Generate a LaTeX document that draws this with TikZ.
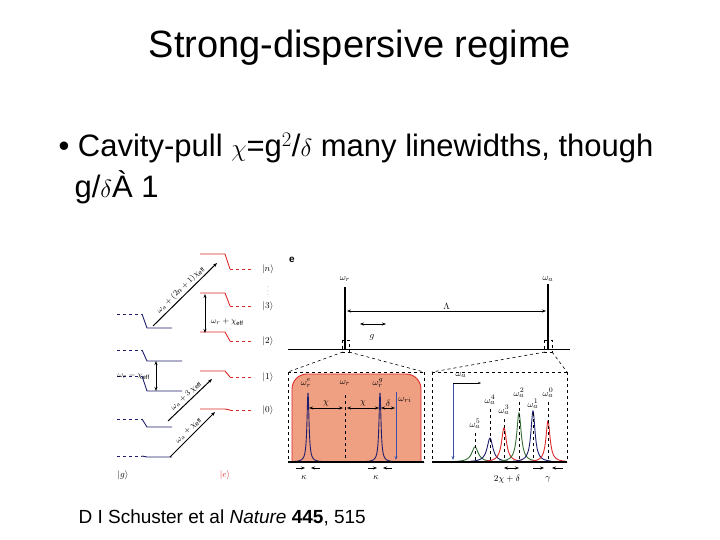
\documentclass[tikz,border=0pt]{standalone}
\usepackage{fontspec}
\setmainfont{Liberation Sans}
\usetikzlibrary{arrows.meta}
\definecolor{lblue}{RGB}{30,30,110}
\definecolor{lred}{RGB}{220,40,40}
\definecolor{salmon}{RGB}{240,160,130}
\definecolor{dgreen}{RGB}{50,110,50}
\definecolor{mblue}{RGB}{60,80,170}
\begin{document}
\begin{tikzpicture}[x=1pt,y=-1pt,
  gl/.style={lblue,line width=0.9pt},
  el/.style={lred,line width=0.9pt},
  arr/.style={-{Stealth[length=4pt]},line width=1pt},
  darr/.style={{Stealth[length=4pt]}-{Stealth[length=4pt]},line width=1pt},
  lab/.style={font=\fontsize{9.5}{10}\selectfont,inner sep=1pt},
  slab/.style={font=\fontsize{8.5}{9}\selectfont,inner sep=1pt},
  dsh/.style={dashed,line width=0.6pt}]
\useasboundingbox (0,0) rectangle (720,540);
\node (title) at (360,48) {\fontsize{38}{44}\selectfont Strong-dispersive regime};
\node[anchor=west] (b1) at (55,148) {\fontsize{31}{36}\selectfont • Cavity-pull $\chi$=g$^2$/$\delta$ many linewidths, though};
\node[anchor=west] (b2) at (71,187) {\fontsize{31}{36}\selectfont g/$\delta$À 1};
\node[anchor=west] (cite) at (75,518) {\fontsize{19}{22}\selectfont D I Schuster et al \textit{Nature} \textbf{445}, 515};
% ground levels
\foreach \ya/\yb/\xe in {314/328/172, 350/361/182, 376/391/182, 419/427/172, 456/457/172}{
  \draw[gl,dashed] (117,\ya) -- (142,\ya);
  \draw[gl] (142,\ya) -- (147,\yb) -- (\xe,\yb);}
% excited levels
\foreach \ya/\yb/\t in {254/269/n, 293/306/3, 332/341/2, 371/377/1, 409/410/0}{
  \draw[el] (200,\ya) -- (225,\ya) -- (230,\yb);
  \draw[el,dashed] (230,\yb) -- (253,\yb);
  \node[lab] (k\t) at (268,\yb) {$|\t\rangle$};}
\node[gray,inner sep=0pt,font=\fontsize{6}{6}\selectfont] (dots) at (268,288) {$\vdots$};
\node[lab] (g) at (123,475) {$|g\rangle$};
\node[lab,lred] (e) at (225,475) {$|e\rangle$};
\coordinate (a1) at (153,326); \coordinate (a2) at (217,263);
\draw[arr] (a1) -- node[slab,sloped,above=1pt] {$\omega_a+(2n+1)\chi_{\rm eff}$} (a2);
\coordinate (b1s) at (168,421); \coordinate (b2s) at (212,379);
\draw[arr] (b1s) -- node[slab,sloped,above=1pt] {$\omega_a+3\,\chi_{\rm eff}$} (b2s);
\coordinate (c1) at (170,457); \coordinate (c2) at (215,412);
\draw[arr] (c1) -- node[slab,sloped,above=1pt] {$\omega_a+\chi_{\rm eff}$} (c2);
\coordinate (d1) at (205,294); \coordinate (d2) at (205,333);
\draw[darr] (d1) -- (d2);
\node[slab,anchor=west] (dl) at (210,322) {$\omega_r+\chi_{\rm eff}$};
\coordinate (f1) at (156,361); \coordinate (f2) at (156,391);
\draw[darr] (f1) -- (f2);
\node[slab,anchor=east] (fl) at (151,376) {$\omega_r-\chi_{\rm eff}$};
% panel e
\node[font=\bfseries\fontsize{10}{10}\selectfont] (elab) at (292,260) {e};
\draw[line width=1pt] (288,349) -- (570,349);
\draw[line width=1.2pt] (345,349) -- (345,287);
\draw[line width=1.2pt] (548,349) -- (548,284);
\node[lab] (wr) at (345,279) {$\omega_r$};
\node[lab] (wa) at (548,279) {$\omega_a$};
\draw[darr] (347,311) -- node[lab,above] {$\Lambda$} (546,311);
\draw[darr] (360,324) -- (386,324);
\node[lab] (gg) at (372,337) {$g$};
\draw[dsh] (342,340) rectangle (349,352);
\draw[dsh] (544,340) rectangle (552,352);
\draw[dsh] (343,352) -- (288,372); \draw[dsh] (349,352) -- (424,372);
\draw[dsh] (545,352) -- (432,372); \draw[dsh] (552,352) -- (567,372);
\draw[dsh] (288,372) -- (424,372); \draw[dsh] (288,372) -- (288,462); \draw[dsh] (424,372) -- (424,462);
\draw[dsh] (432,372) -- (567,372); \draw[dsh] (432,372) -- (432,462); \draw[dsh] (567,372) -- (567,462);
\draw[lred,fill=salmon,line width=0.9pt,rounded corners=15pt] (292,462) -- (292,374) -- (421,374) -- (421,462);
\draw[lblue,line width=0.9pt,domain=292:324,samples=100] plot (\x,{462-70/(1+((\x-308)/1.2)^2)});
\draw[lblue,line width=0.9pt,domain=364:396,samples=100] plot (\x,{462-70/(1+((\x-380)/1.2)^2)});
\draw[dsh] (345,395) -- (345,462);
\draw[mblue,arr] (396,392) -- (396,460);
\node[lab] (wre) at (306,383) {$\omega_r^e$};
\node[lab] (wrr) at (345,383) {$\omega_r$};
\node[lab] (wrg) at (378,383) {$\omega_r^g$};
\node[lab] (wri) at (405,400) {$\omega_{ri}$};
\draw[darr] (309,408) -- node[lab,above] {$\chi$} (343,408);
\draw[darr] (347,408) -- node[lab,above] {$\chi$} (379,408);
\draw[darr] (381,408) -- node[lab,above] {$\delta$} (395,408);
% right panel peaks
\draw[mblue,line width=1pt,-{Stealth[length=4pt]}] (453,383) -- (453,460);
\draw[line width=0.6pt,-{Stealth[length=3pt]}] (453,383) -- (481,383);
\node[lab] (was) at (461,375) {$\omega_a$};
\foreach \px/\h/\w/\c/\n/\ly in {475/15/4/dgreen/5/424, 490/24/3.5/lblue/4/400, 504/34/3/lred/3/410, 519/49/2.7/dgreen/2/393, 533/51/2.5/lblue/1/404, 548/41/2.5/lred/0/393}{
  \draw[\c,line width=0.9pt,domain=\px-20:\px+18,samples=100] plot (\x,{462-\h/(1+((\x-\px)/\w)^2)});
  \draw[dsh] (\px,\ly+9) -- (\px,462);
  \node[lab] at (\px,\ly) {$\omega_a^{\n}$};}
\draw[line width=2pt] (288,462) -- (424,462);
\draw[line width=2pt] (432,462) -- (567,462);
\foreach \kx in {308,380}{
  \draw[arr] (\kx-12,468) -- (\kx-3,468); \draw[arr] (\kx+12,468) -- (\kx+3,468);
  \node[lab] at (\kx-4,478) {$\kappa$};}
\draw[darr] (504,468) -- (519,468);
\node[lab] (tcd) at (507,479) {$2\chi+\delta$};
\draw[arr] (533,468) -- (544,468); \draw[arr] (563,468) -- (552,468);
\node[lab] (gam) at (548,479) {$\gamma$};
\end{tikzpicture}
\end{document}
